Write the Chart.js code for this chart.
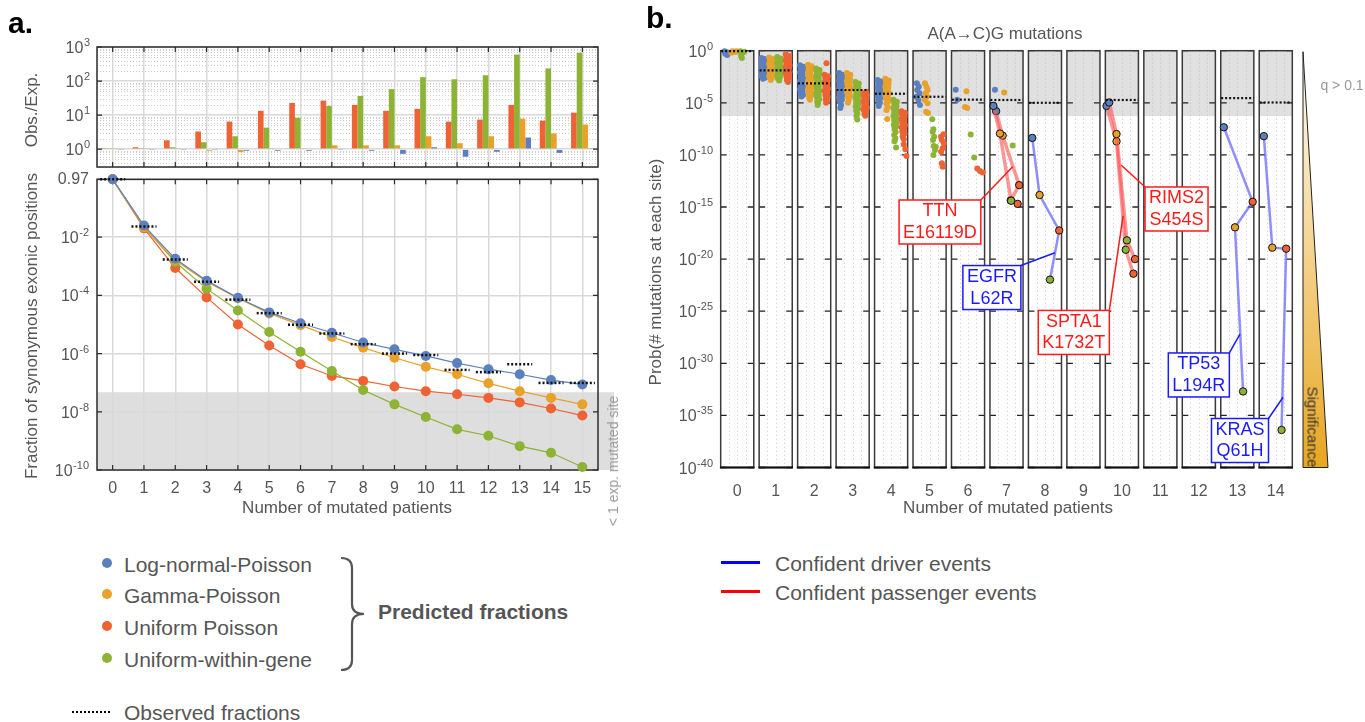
<!DOCTYPE html>
<html lang="en"><head><meta charset="utf-8"><title>Mutation count models</title>
<script src="https://cdn.jsdelivr.net/npm/chart.js@4.4.1/dist/chart.umd.min.js"></script>
<style>
html,body{margin:0;padding:0;background:#fff}
body{position:relative;width:1365px;height:722px;overflow:hidden;font-family:"Liberation Sans",Arial,Helvetica,sans-serif;color:#555}
canvas{position:absolute;display:block}
.t{position:absolute;white-space:nowrap;line-height:1}
.rot{transform:translate(-50%,-50%) rotate(-90deg)}
.c{transform:translate(-50%,-50%)}
.l{transform:translateY(-50%)}
.dot{position:absolute;width:10px;height:10px;border-radius:50%}
</style></head><body>
<canvas id="cA1" width="620" height="150" style="left:0;top:30px"></canvas>
<canvas id="cA2" width="620" height="360" style="left:0;top:170px"></canvas>
<canvas id="cB" width="725" height="530" style="left:640px;top:0"></canvas>

<div class="t" style="left:8px;top:8px;font-size:30px;font-weight:bold;color:#000">a.</div>
<div class="t" style="left:646px;top:3px;font-size:30px;font-weight:bold;color:#000">b.</div>
<div class="t rot" style="left:31px;top:110px;font-size:17px">Obs./Exp.</div>
<div class="t rot" style="left:31px;top:326px;font-size:17px">Fraction of synonymous exonic positions</div>
<div class="t c" style="left:347px;top:507px;font-size:17px">Number of mutated patients</div>
<div class="t rot" style="left:613px;top:461px;font-size:14px;color:#999">&lt; 1 exp. mutated site</div>
<div class="t c" style="left:1005px;top:33px;font-size:17px">A(A→C)G mutations</div>
<div class="t rot" style="left:655px;top:272px;font-size:17px">Prob(# mutations at each site)</div>
<div class="t c" style="left:1008px;top:507px;font-size:17px">Number of mutated patients</div>
<div class="t c" style="left:1342px;top:85px;font-size:14px;color:#999">q &gt; 0.1</div>
<div class="t" style="left:1313px;top:427px;font-size:15px;color:#333;transform:translate(-50%,-50%) rotate(90deg)">Significance</div>

<div class="dot" style="left:102px;top:558px;background:#5b80bd"></div>
<div class="t l" style="left:124px;top:564px;font-size:21px">Log-normal-Poisson</div>
<div class="dot" style="left:102px;top:589px;background:#e8a12a"></div>
<div class="t l" style="left:124px;top:595px;font-size:21px">Gamma-Poisson</div>
<div class="dot" style="left:102px;top:621px;background:#ee6233"></div>
<div class="t l" style="left:124px;top:627px;font-size:21px">Uniform Poisson</div>
<div class="dot" style="left:102px;top:653px;background:#8db334"></div>
<div class="t l" style="left:124px;top:659px;font-size:21px">Uniform-within-gene</div>
<svg style="position:absolute;left:330px;top:550px" width="50" height="130"><path d="M11,8 Q22,8 22,18 L22,54 Q22,64 34,64 Q22,64 22,74 L22,110 Q22,120 11,120" fill="none" stroke="#555" stroke-width="2.2"/></svg>
<div class="t l" style="left:378px;top:611px;font-size:21px;font-weight:bold">Predicted fractions</div>
<div style="position:absolute;left:72px;top:711px;width:38px;border-top:2px dotted #000"></div>
<div class="t l" style="left:124px;top:712px;font-size:21px">Observed fractions</div>

<div style="position:absolute;left:721px;top:561px;width:39px;height:3px;background:#0000ff"></div>
<div class="t l" style="left:775px;top:563px;font-size:21px">Confident driver events</div>
<div style="position:absolute;left:721px;top:590px;width:39px;height:3px;background:#ff0000"></div>
<div class="t l" style="left:775px;top:592px;font-size:21px">Confident passenger events</div>

<script>
// ---------------- DATA ----------------
// Panel a
const patientsA = [0,1,2,3,4,5,6,7,8,9,10,11,12,13,14,15];
// Observed / expected ratio (top)
const obsExpUniformPoisson = [1.03,1.14,1.82,3.3,6.45,13.4,22.9,26.7,20.0,13.4,15.3,6.45,7.4,20.0,6.9,11.8];
const obsExpUniformGene    = [1.03,1.03,1.14,1.6,2.4,4.3,8.4,18.7,36.5,58,130,113,148,600,235,680];
const obsExpGamma          = [1.03,1.03,1.03,0.9,0.82,1.03,1.07,1.3,1.3,1.3,2.4,1.5,2.4,7.9,2.9,5.3];
const obsExpLogNormal      = [0.97,0.97,0.97,0.97,0.9,0.9,0.9,0.97,0.9,0.73,1.14,0.6,0.84,2.2,0.78,1.07];
// Fraction of synonymous exonic positions (bottom)
const fracLogNormal      = [0.97,2.5e-2,1.8e-3,3.2e-4,8.3e-5,2.6e-5,1.1e-5,5.2e-6,2.4e-6,1.4e-6,8.3e-7,4.7e-7,2.9e-7,1.95e-7,1.23e-7,8.7e-8];
const fracGamma          = [0.97,2.2e-2,1.6e-3,2.95e-4,7.9e-5,2.4e-5,9.5e-6,3.7e-6,1.6e-6,7.2e-7,3.5e-7,1.95e-7,9.5e-8,5.1e-8,3.0e-8,1.8e-8];
const fracUniformPoisson = [0.97,2.0e-2,8.7e-4,8.5e-5,1.0e-5,1.9e-6,4.3e-7,1.7e-7,1.15e-7,7.4e-8,5.1e-8,4.0e-8,3.0e-8,2.1e-8,1.3e-8,7.4e-9];
const fracUniformGene    = [0.97,2.2e-2,1.4e-3,1.7e-4,3.0e-5,5.5e-6,1.15e-6,2.5e-7,5.6e-8,1.8e-8,6.6e-9,2.5e-9,1.5e-9,6.6e-10,3.9e-10,1.26e-10];
const fracObserved       = [0.97,2.3e-2,1.7e-3,2.95e-4,7.1e-5,2.45e-5,9.8e-6,4.9e-6,2.1e-6,1.0e-6,8.9e-7,2.75e-7,2.3e-7,4.3e-7,9.8e-8,9.8e-8];
const belowOneSite = 4.7e-8;
const ticksTopA = [1,10,100,1000];
const ticksBottomA = [1e-10,1e-8,1e-6,1e-4,1e-2,0.97];

// Panel b : [patients (jittered inside facet), log10 probability]
const patientsB = [0,1,2,3,4,5,6,7,8,9,10,11,12,13,14];
const bTickExps = [0,-5,-10,-15,-20,-25,-30,-35,-40];
const qThresholdExp = -6.28;
const bObservedExp = [-0.05,-1.88,-3.13,-3.77,-4.13,-4.42,-4.7,-4.73,-5.0,null,-4.73,null,null,-4.55,-4.97];
const bLogNormal = [
 [-0.33,-0.05],[-0.27,-0.15],[-0.31,-0.3],[-0.26,-0.42],
 [0.63,-0.7],[0.72,-0.8],[0.65,-0.95],[0.71,-1.1],[0.63,-1.25],[0.7,-1.4],[0.65,-1.55],[0.72,-1.7],[0.63,-1.85],[0.71,-2.0],[0.65,-2.15],[0.7,-2.3],[0.63,-2.45],[0.72,-2.6],[0.67,-2.7],
 [1.63,-1.4],[1.72,-1.55],[1.65,-1.7],[1.71,-1.9],[1.63,-2.1],[1.7,-2.3],[1.65,-2.5],[1.72,-2.7],[1.63,-2.9],[1.7,-3.1],[1.65,-3.3],[1.72,-3.5],[1.63,-3.7],[1.7,-3.9],[1.65,-4.1],[1.71,-4.25],[1.67,-4.4],
 [2.65,-2.15],[2.74,-2.3],[2.67,-2.5],[2.73,-2.7],[2.65,-2.9],[2.72,-3.1],[2.67,-3.3],[2.74,-3.5],[2.65,-3.7],[2.72,-3.9],[2.67,-4.1],[2.73,-4.3],[2.65,-4.5],[2.72,-4.7],[2.67,-4.9],[2.7,-5.2],[2.68,-5.5],
 [3.65,-2.8],[3.74,-2.95],[3.67,-3.15],[3.73,-3.35],[3.65,-3.55],[3.72,-3.75],[3.67,-3.95],[3.74,-4.15],[3.65,-4.35],[3.72,-4.55],[3.67,-4.75],[3.71,-5.0],[3.68,-5.3],
 [4.67,-3.13],[4.72,-3.45],[4.68,-3.77],[4.74,-4.09],[4.66,-4.41],[4.71,-4.73],[4.75,-5.2],
 [5.68,-3.75],[5.72,-4.7],
 [6.7,-3.75]
];
const bGamma = [
 [-0.12,-0.05],[-0.05,-0.12],[-0.15,-0.2],[-0.02,-0.05],
 [0.83,-0.65],[0.92,-0.8],[0.85,-0.95],[0.91,-1.1],[0.83,-1.25],[0.9,-1.4],[0.85,-1.55],[0.92,-1.7],[0.83,-1.85],[0.9,-2.0],[0.85,-2.15],[0.92,-2.3],[0.83,-2.45],[0.9,-2.6],[0.87,-2.8],
 [1.84,-1.35],[1.93,-1.5],[1.86,-1.7],[1.92,-1.9],[1.84,-2.1],[1.91,-2.3],[1.86,-2.5],[1.93,-2.7],[1.84,-2.9],[1.91,-3.1],[1.86,-3.3],[1.93,-3.5],[1.84,-3.7],[1.91,-3.9],[1.86,-4.1],[1.92,-4.3],[1.87,-4.5],[1.89,-4.7],
 [2.85,-2.15],[2.94,-2.3],[2.87,-2.5],[2.93,-2.7],[2.85,-2.9],[2.92,-3.1],[2.87,-3.3],[2.94,-3.5],[2.85,-3.7],[2.92,-3.9],[2.87,-4.1],[2.93,-4.3],[2.88,-4.5],[2.9,-4.7],[2.88,-5.0],
 [3.85,-2.7],[3.94,-2.85],[3.87,-3.05],[3.93,-3.25],[3.85,-3.45],[3.92,-3.65],[3.87,-3.85],[3.94,-4.05],[3.85,-4.25],[3.92,-4.45],[3.87,-4.65],[3.93,-4.85],[3.88,-5.1],[3.91,-5.4],[3.88,-5.7],[3.9,-6.55],
 [4.88,-3.13],[4.92,-3.45],[4.95,-3.77],[4.9,-4.09],[4.93,-4.41],[4.88,-4.73],[4.95,-5.05],[4.91,-5.85],[4.96,-5.98],
 [5.96,-3.9],[5.92,-5.4],[5.98,-5.5],
 [6.94,-4.0]
];
const bUniformGene = [
 [0.08,-0.05],[0.14,-0.2],[0.1,-0.5],[0.18,-0.1],[0.12,-0.7],
 [1.04,-0.6],[1.13,-0.75],[1.06,-0.9],[1.12,-1.05],[1.04,-1.2],[1.11,-1.35],[1.06,-1.5],[1.13,-1.65],[1.04,-1.8],[1.11,-1.95],[1.06,-2.1],[1.13,-2.25],[1.04,-2.4],[1.11,-2.55],[1.06,-2.7],[1.09,-2.85],
 [2.05,-1.7],[2.14,-1.85],[2.07,-2.05],[2.13,-2.25],[2.05,-2.45],[2.12,-2.65],[2.07,-2.85],[2.14,-3.05],[2.05,-3.25],[2.12,-3.45],[2.07,-3.65],[2.14,-3.85],[2.05,-4.05],[2.12,-4.25],[2.07,-4.45],[2.13,-4.65],[2.08,-4.85],[2.1,-5.05],[2.09,-5.2],
 [3.07,-3.0],[3.16,-3.15],[3.09,-3.35],[3.15,-3.55],[3.07,-3.75],[3.14,-3.95],[3.09,-4.15],[3.16,-4.35],[3.07,-4.55],[3.14,-4.75],[3.09,-4.95],[3.15,-5.15],[3.08,-5.35],[3.14,-5.55],[3.09,-5.75],[3.12,-6.0],[3.1,-6.3],[3.12,-6.6],
 [4.06,-4.7],[4.15,-4.9],[4.08,-5.1],[4.14,-5.3],[4.06,-5.5],[4.13,-5.7],[4.08,-5.9],[4.15,-6.1],[4.06,-6.3],[4.13,-6.5],[4.08,-6.7],[4.14,-6.9],[4.07,-7.1],[4.13,-7.3],[4.09,-7.55],[4.12,-7.8],[4.08,-8.1],[4.11,-8.4],[4.09,-8.7],[4.13,-9.3],
 [5.07,-6.58],[5.1,-7.54],[5.08,-7.77],[5.12,-8.25],[5.09,-8.57],[5.11,-9.15],[5.16,-9.21],[5.14,-9.53],[5.1,-10.0],
 [6.07,-8.05],[6.16,-10.25],
 [7.16,-9.1]
];
const bUniformPoisson = [
 [1.26,-0.35],[1.35,-0.5],[1.28,-0.65],[1.35,-0.8],[1.26,-0.95],[1.34,-1.1],[1.28,-1.25],[1.36,-1.4],[1.26,-1.55],[1.34,-1.7],[1.28,-1.85],[1.36,-2.0],[1.26,-2.15],[1.34,-2.3],[1.28,-2.45],[1.35,-2.6],[1.29,-2.8],[1.32,-3.0],
 [2.32,-1.2],[2.27,-2.3],[2.36,-2.45],[2.29,-2.65],[2.35,-2.85],[2.27,-3.05],[2.34,-3.25],[2.29,-3.45],[2.36,-3.65],[2.27,-3.85],[2.34,-4.05],[2.29,-4.25],[2.35,-4.45],[2.3,-4.65],[2.33,-4.85],[2.31,-5.0],
 [3.35,-3.95],[3.28,-4.1],[3.37,-4.25],[3.3,-4.45],[3.36,-4.65],[3.28,-4.85],[3.35,-5.05],[3.3,-5.25],[3.37,-5.45],[3.28,-5.65],[3.35,-5.85],[3.31,-6.05],[3.33,-6.25],
 [4.27,-5.8],[4.36,-5.95],[4.29,-6.15],[4.35,-6.35],[4.27,-6.55],[4.34,-6.75],[4.29,-6.95],[4.36,-7.15],[4.27,-7.35],[4.34,-7.55],[4.29,-7.75],[4.35,-7.95],[4.3,-8.2],[4.33,-8.5],[4.33,-9.0],[4.37,-9.45],[4.4,-10.1],
 [5.3,-8.25],[5.36,-8.02],[5.32,-8.57],[5.37,-8.89],[5.34,-9.37],[5.3,-9.69],[5.32,-10.8],[5.34,-11.13],
 [6.24,-11.3],[6.31,-11.55],[6.38,-11.7]
];
// Confidently called sites: [patients, log10 prob, model]
const bSites = [
 {kind:'passenger', pts:[[6.66,-5.3,'logNormal'],[6.83,-7.95,'gamma'],[7.12,-14.4,'uniformGene'],[7.29,-14.7,'uniformPoisson']]},
 {kind:'passenger', pts:[[6.73,-5.8,'logNormal'],[6.9,-8.15,'gamma'],[7.33,-12.9,'uniformPoisson'],[7.11,-14.35,'uniformGene']]},
 {kind:'driver',    pts:[[7.67,-8.37,'logNormal'],[7.86,-13.85,'gamma'],[8.37,-17.25,'uniformPoisson'],[8.13,-21.97,'uniformGene']]},
 {kind:'passenger', pts:[[9.67,-4.97,'logNormal'],[9.86,-8.0,'gamma'],[10.13,-18.2,'uniformGene'],[10.34,-20.0,'uniformPoisson']]},
 {kind:'passenger', pts:[[9.6,-5.3,'logNormal'],[9.86,-8.7,'gamma'],[10.1,-19.1,'uniformGene'],[10.3,-21.4,'uniformPoisson']]},
 {kind:'driver',    pts:[[12.65,-7.35,'logNormal'],[13.4,-14.5,'uniformPoisson'],[12.94,-16.95,'gamma'],[13.15,-32.7,'uniformGene']]},
 {kind:'driver',    pts:[[13.69,-8.2,'logNormal'],[13.91,-18.9,'gamma'],[14.27,-19.0,'uniformPoisson'],[14.15,-36.4,'uniformGene']]}
];
// Site labels: text, label centre [patients, log10], anchor on track [patients, log10], corner joined
const bLabels = [
 {text:['TTN','E16119D'], kind:'passenger', center:[5.27,-16.44], anchor:[7.16,-11.13], corner:'tr'},
 {text:['EGFR','L62R'],   kind:'driver',    center:[6.62,-22.73], anchor:[8.26,-19.39], corner:'tr'},
 {text:['SPTA1','K1732T'],kind:'passenger', center:[8.75,-27.04], anchor:[10.03,-15.86], corner:'tr'},
 {text:['RIMS2','S454S'], kind:'passenger', center:[11.42,-15.19], anchor:[9.98,-10.97], corner:'tl'},
 {text:['TP53','L194R'],  kind:'driver',    center:[12.0,-31.12], anchor:[13.07,-27.19], corner:'tr'},
 {text:['KRAS','Q61H'],   kind:'driver',    center:[13.07,-37.41], anchor:[14.19,-33.26], corner:'tr'}
];

// ---------------- STYLE / HELPERS ----------------
const FONT = '"Liberation Sans", Arial, Helvetica, sans-serif';
Chart.defaults.font.family = FONT;
Chart.defaults.color = '#555';
const COL = {logNormal:'#5b80bd', gamma:'#e8a12a', uniformPoisson:'#ee6233', uniformGene:'#8db334'};
const GRID = '#d9d9d9';

// y tick labels "10" with a raised exponent
function drawPowTicks(chart, values, pad, plainLabel){
  const {ctx, scales:{y}} = chart; const xr = y.right - pad;
  ctx.save(); ctx.fillStyle = '#555'; ctx.textAlign = 'right';
  values.forEach(v=>{
    const py = y.getPixelForValue(v);
    const plain = plainLabel ? plainLabel(v) : null;
    if (plain) { ctx.font = '16px ' + FONT; ctx.textBaseline = 'middle'; ctx.fillText(plain, xr, py); return; }
    const e = String(Math.round(Math.log10(v)));
    ctx.textBaseline = 'alphabetic';
    ctx.font = '11px ' + FONT; const we = ctx.measureText(e).width;
    ctx.fillText(e, xr, py - 1);
    ctx.font = '16px ' + FONT; ctx.fillText('10', xr - we - 0.5, py + 6);
  });
  ctx.restore();
}
function drawFrame(chart, xTicks, yTicks, len){
  const {ctx, chartArea:a} = chart;
  ctx.save();
  ctx.strokeStyle = '#2b2b2b'; ctx.lineWidth = 1.5;
  ctx.strokeRect(a.left, a.top, a.right - a.left, a.bottom - a.top);
  ctx.lineWidth = 1.2; ctx.beginPath();
  xTicks.forEach(x => { ctx.moveTo(x, a.bottom); ctx.lineTo(x, a.bottom - len); ctx.moveTo(x, a.top); ctx.lineTo(x, a.top + len); });
  yTicks.forEach(y => { ctx.moveTo(a.left, y); ctx.lineTo(a.left + len, y); ctx.moveTo(a.right, y); ctx.lineTo(a.right - len, y); });
  ctx.stroke(); ctx.restore();
}
const baseOpts = {responsive:false, animation:false, devicePixelRatio:1, events:[], plugins:{legend:{display:false}, tooltip:{enabled:false}}};

// ---------------- CHART a (top): Obs./Exp. ----------------
new Chart(document.getElementById('cA1'), {
  type:'bar',
  data:{labels: patientsA.map(String), datasets:[
    {label:'Uniform Poisson', data:obsExpUniformPoisson, backgroundColor:COL.uniformPoisson, base:1},
    {label:'Uniform-within-gene', data:obsExpUniformGene, backgroundColor:COL.uniformGene, base:1},
    {label:'Gamma-Poisson', data:obsExpGamma, backgroundColor:COL.gamma, base:1},
    {label:'Log-normal-Poisson', data:obsExpLogNormal, backgroundColor:COL.logNormal, base:1}
  ]},
  options:Object.assign({}, baseOpts, {
    layout:{padding:{left:0, right:22, top:17, bottom:13}},
    datasets:{bar:{categoryPercentage:0.72, barPercentage:1}},
    scales:{
      x:{grid:{offset:false, color:GRID, lineWidth:1.5, drawTicks:false}, border:{display:false}, ticks:{display:false}, afterFit:s=>{s.height=0;}},
      y:{type:'logarithmic', min:0.345, max:1000,
         afterBuildTicks:s=>{s.ticks = ticksTopA.map(v=>({value:v}));},
         ticks:{display:false},
         grid:{color:GRID, lineWidth:1.5, drawTicks:false}, border:{display:false},
         afterFit:s=>{s.width=97;}}
    }
  }),
  plugins:[{id:'minorTop', beforeDatasetsDraw(chart){
    const {ctx, chartArea:a, scales:{x,y}} = chart;
    ctx.save(); ctx.strokeStyle='#cdcdcd'; ctx.lineWidth=1; ctx.setLineDash([1,2]);
    [0.1,1,10,100].forEach(d=>{ for(let k=2;k<=9;k++){ const v=k*d; if(v<y.min||v>y.max) continue;
      const py=Math.round(y.getPixelForValue(v))+0.5; ctx.beginPath(); ctx.moveTo(a.left,py); ctx.lineTo(a.right,py); ctx.stroke(); } });
    ctx.restore();
    drawFrame(chart, patientsA.map((p,i)=>x.getPixelForTick(i)), ticksTopA.map(v=>y.getPixelForValue(v)), 5);
  },
  afterDraw(chart){ drawPowTicks(chart, ticksTopA, 7); }}]
});

// ---------------- CHART a (bottom): fractions ----------------
const lineDs = (label, arr, color) => ({label, data: patientsA.map((p,i)=>({x:p, y:arr[i]})), borderColor:color, backgroundColor:color,
  pointBackgroundColor:color, pointRadius:5, pointBorderWidth:0, borderWidth:1.2, tension:0, clip:false});
new Chart(document.getElementById('cA2'), {
  type:'line',
  data:{datasets:[
    lineDs('Log-normal-Poisson', fracLogNormal, COL.logNormal),
    lineDs('Gamma-Poisson', fracGamma, COL.gamma),
    lineDs('Uniform-within-gene', fracUniformGene, COL.uniformGene),
    lineDs('Uniform Poisson', fracUniformPoisson, COL.uniformPoisson)
  ]},
  options:Object.assign({}, baseOpts, {
    layout:{padding:{left:0, right:22, top:9.3, bottom:20}},
    scales:{
      x:{type:'linear', min:-0.5, max:15.5, afterBuildTicks:s=>{s.ticks = patientsA.map(v=>({value:v}));},
         ticks:{font:{size:16}, color:'#555', padding:9}, grid:{color:GRID, lineWidth:1.5, drawTicks:false}, border:{display:false},
         afterFit:s=>{s.height=40;}},
      y:{type:'logarithmic', min:1e-10, max:0.97, afterBuildTicks:s=>{s.ticks = ticksBottomA.map(v=>({value:v}));},
         ticks:{display:false},
         grid:{color:GRID, lineWidth:1.5, drawTicks:false}, border:{display:false}, afterFit:s=>{s.width=97;}}
    }
  }),
  plugins:[{id:'shadeA', beforeDraw(chart){
      const {ctx, chartArea:a, scales:{y}} = chart; const py = y.getPixelForValue(belowOneSite);
      ctx.save(); ctx.fillStyle='#dedede'; ctx.fillRect(a.left, py, a.right - a.left + 16, a.bottom - py); ctx.restore();
    },
    beforeDatasetsDraw(chart){ const {scales:{x,y}} = chart;
      drawFrame(chart, patientsA.map(p=>x.getPixelForValue(p)), ticksBottomA.map(v=>y.getPixelForValue(v)), 5); },
    afterDatasetsDraw(chart){
      const {ctx, scales:{x,y}} = chart;
      ctx.save(); ctx.strokeStyle='#111'; ctx.lineWidth=2.5; ctx.setLineDash([2,2]);
      patientsA.forEach((p,i)=>{ const py=y.getPixelForValue(fracObserved[i]); ctx.beginPath();
        ctx.moveTo(x.getPixelForValue(p-0.4),py); ctx.lineTo(x.getPixelForValue(p+0.4),py); ctx.stroke(); });
      ctx.restore();
    },
    afterDraw(chart){ drawPowTicks(chart, ticksBottomA, 8, v => v > 0.5 ? '0.97' : null); }}]
});

// ---------------- CHART b ----------------
const toXY = arr => arr.map(p=>({x:p[0], y:Math.pow(10,p[1])}));
const scat = (label, arr, color) => ({type:'scatter', label, data:toXY(arr), backgroundColor:color, pointRadius:3, pointBorderWidth:0, clip:false});
const siteDs = bSites.map(s => ({type:'line', label:s.kind, data:toXY(s.pts),
  borderColor: s.kind==='driver' ? 'rgba(95,95,255,0.7)' : 'rgba(255,85,85,0.62)', borderWidth: s.kind==='driver' ? 2.5 : 3.5,
  pointRadius:3.7, pointBackgroundColor:s.pts.map(p=>COL[p[2]]), pointBorderColor:'#111', pointBorderWidth:1, tension:0, fill:false, clip:false}));

new Chart(document.getElementById('cB'), {
  type:'scatter',
  data:{datasets:[...siteDs,
    scat('Uniform Poisson', bUniformPoisson, COL.uniformPoisson),
    scat('Uniform-within-gene', bUniformGene, COL.uniformGene),
    scat('Gamma-Poisson', bGamma, COL.gamma),
    scat('Log-normal-Poisson', bLogNormal, COL.logNormal)]},
  options:Object.assign({}, baseOpts, {
    layout:{padding:{left:0, right:70, top:50.7, bottom:22.5}},
    scales:{
      x:{type:'linear', min:-0.5, max:14.5, afterBuildTicks:s=>{s.ticks = patientsB.map(v=>({value:v}));},
         ticks:{font:{size:16}, color:'#555', padding:6}, grid:{display:false}, border:{display:false}, afterFit:s=>{s.height=40;}},
      y:{type:'logarithmic', min:1e-40, max:1, afterBuildTicks:s=>{s.ticks = bTickExps.map(e=>({value:Math.pow(10,e)}));},
         ticks:{display:false}, grid:{display:false}, border:{display:false},
         afterFit:s=>{s.width=78;}}
    }
  }),
  plugins:[{id:'facets',
    beforeDatasetsDraw(chart){
      const {ctx, chartArea:a, scales:{x,y}} = chart;
      const yq = y.getPixelForValue(Math.pow(10,qThresholdExp));
      ctx.save();
      patientsB.forEach(c=>{
        const l = x.getPixelForValue(c-0.43), r = x.getPixelForValue(c+0.43);
        ctx.fillStyle='#e0e0e0'; ctx.fillRect(l, a.top, r-l, yq-a.top);
        ctx.strokeStyle='#c4c4c4'; ctx.lineWidth=1; ctx.setLineDash([1,3]);
        [-0.22,0,0.22].forEach(o=>{ const px=Math.round(x.getPixelForValue(c+o))+0.5; ctx.beginPath(); ctx.moveTo(px,a.top); ctx.lineTo(px,a.bottom); ctx.stroke(); });
        ctx.setLineDash([]);
        ctx.strokeStyle='#222'; ctx.lineWidth=1.3; ctx.beginPath();
        bTickExps.forEach(e=>{ const py=y.getPixelForValue(Math.pow(10,e)); ctx.moveTo(l,py); ctx.lineTo(l+6,py); ctx.moveTo(r,py); ctx.lineTo(r-6,py); });
        ctx.stroke();
        ctx.strokeStyle='#3a3a3a'; ctx.lineWidth=1.5; ctx.strokeRect(l, a.top, r-l, a.bottom-a.top);
        ctx.strokeStyle='#111'; ctx.lineWidth=2; ctx.beginPath(); ctx.moveTo(l-0.75,a.bottom); ctx.lineTo(r+0.75,a.bottom); ctx.stroke();
      });
      ctx.restore();
    },
    afterDatasetsDraw(chart){
      const {ctx, chartArea:a, scales:{x,y}} = chart;
      ctx.save();
      ctx.strokeStyle='#111'; ctx.lineWidth=2.2; ctx.setLineDash([2,2]);
      patientsB.forEach((c,i)=>{ const e=bObservedExp[i]; if(e===null) return; const py=y.getPixelForValue(Math.pow(10,e));
        ctx.beginPath(); ctx.moveTo(x.getPixelForValue(c-0.42),py); ctx.lineTo(x.getPixelForValue(c+0.42),py); ctx.stroke(); });
      ctx.setLineDash([]);
      ctx.font = '18px ' + FONT; ctx.textAlign='center'; ctx.textBaseline='middle';
      bLabels.forEach(lb=>{
        const col = lb.kind==='driver' ? '#1a1aff' : '#ff1a1a';
        const cx = x.getPixelForValue(lb.center[0]), cy = y.getPixelForValue(Math.pow(10,lb.center[1]));
        const w = Math.max(...lb.text.map(t=>ctx.measureText(t).width)) + 8, h = 44;
        const bx = cx - w/2, by = cy - h/2;
        const ax = x.getPixelForValue(lb.anchor[0]), ay = y.getPixelForValue(Math.pow(10,lb.anchor[1]));
        const kx = lb.corner==='tl' ? bx : bx + w;
        ctx.strokeStyle=col; ctx.lineWidth=1.5; ctx.beginPath(); ctx.moveTo(ax,ay); ctx.lineTo(kx,by); ctx.stroke();
        ctx.fillStyle='#fff'; ctx.fillRect(bx,by,w,h); ctx.strokeRect(bx,by,w,h);
        ctx.fillStyle=col; ctx.fillText(lb.text[0], cx, cy-10.5); ctx.fillText(lb.text[1], cx, cy+11);
      });
      ctx.restore();
    },
    afterDraw(chart){
      const {ctx, chartArea:a} = chart;
      const x0=a.right+8, x1=a.right+33, t=a.top+1, b=a.bottom;
      ctx.save();
      const g = ctx.createLinearGradient(0,t,0,b); g.addColorStop(0,'#fffdf6'); g.addColorStop(1,'#e8a620');
      ctx.fillStyle=g; ctx.beginPath(); ctx.moveTo(x0,t); ctx.lineTo(x0,b); ctx.lineTo(x1,b); ctx.closePath(); ctx.fill();
      ctx.strokeStyle='#222'; ctx.lineWidth=1; ctx.stroke();
      ctx.restore();
      drawPowTicks(chart, bTickExps.map(e=>Math.pow(10,e)), 5);
    }}]
});
</script>
</body></html>
